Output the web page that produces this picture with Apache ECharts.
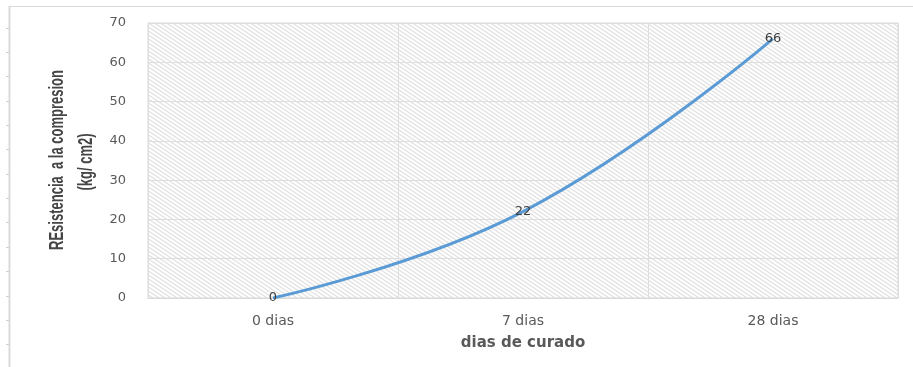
<!DOCTYPE html>
<html>
<head>
<meta charset="utf-8">
<script src="https://cdn.jsdelivr.net/npm/echarts@6/dist/echarts.min.js"></script>
<style>
  html, body { margin: 0; padding: 0; background: #fff; }
  #chart { width: 913px; height: 367px; }
</style>
</head>
<body>
<div id="chart"></div>
<script>
// Curing age categories and measured compressive strength
const categories = ['0 dias', '7 dias', '28 dias'];
const strength = [0, 22, 66];
const yTicks = { min: 0, max: 70, interval: 10 };
const yTitleLines = ['REsistencia  a la compresion', '(kg/ cm2)'];
const xTitle = 'dias de curado';

// Light diagonal hatch used as the plot-area fill
function hatchPattern() {
  const w = 6, h = 4;
  const c = document.createElement('canvas');
  c.width = w; c.height = h;
  const g = c.getContext('2d');
  g.fillStyle = '#ffffff';
  g.fillRect(0, 0, w, h);
  g.strokeStyle = '#e2e2e2';
  g.lineWidth = 1.3;
  g.beginPath();
  for (let k = -1; k <= 1; k++) {
    g.moveTo(-w + k * w, -h); g.lineTo(2 * w + k * w, 2 * h);
  }
  g.stroke();
  return c;
}

// Condensed look for the rotated axis title: squeeze along the text direction
const titleFont = 'bold 20px "Liberation Sans", Arial, sans-serif';
const titleLength = 180;
const meas = document.createElement('canvas').getContext('2d');
meas.font = titleFont;
const titleScale = titleLength / meas.measureText(yTitleLines[0]).width;

function yTitleText(text, cx, cy) {
  return {
    type: 'text',
    x: cx, y: cy,
    rotation: Math.PI / 2,
    scaleX: titleScale,
    style: {
      text: text,
      font: titleFont,
      fill: '#454545',
      align: 'center',
      verticalAlign: 'middle'
    }
  };
}

// Outer page frame with ruler-like ticks on the left edge
const graphics = [
  { type: 'line', shape: { x1: 9, y1: 6.5, x2: 913, y2: 6.5 }, style: { stroke: '#d9d9d9', lineWidth: 1 } },
  { type: 'line', shape: { x1: 9.5, y1: 6, x2: 9.5, y2: 367 }, style: { stroke: '#d9d9d9', lineWidth: 2 } },
  yTitleText(yTitleLines[0], 57, 160),
  yTitleText(yTitleLines[1], 86, 162)
];
for (let y = 27.7; y < 367; y += 24.35) {
  graphics.push({ type: 'line', shape: { x1: 6, y1: Math.round(y) + 0.5, x2: 9, y2: Math.round(y) + 0.5 }, style: { stroke: '#d0d0d0', lineWidth: 1 } });
}

const chart = echarts.init(document.getElementById('chart'));
chart.setOption({
  animation: false,
  backgroundColor: '#ffffff',
  graphic: graphics,
  grid: {
    left: 148, right: 15, top: 23, bottom: 69,
    show: true,
    backgroundColor: { image: hatchPattern(), repeat: 'repeat' },
    borderColor: '#d9d9d9',
    borderWidth: 1
  },
  xAxis: {
    type: 'category',
    data: categories,
    boundaryGap: true,
    name: xTitle,
    nameLocation: 'middle',
    nameGap: 38,
    nameTextStyle: { fontFamily: 'DejaVu Sans', fontSize: 15, fontWeight: 'bold', color: '#595959' },
    axisLine: { show: true, lineStyle: { color: '#d9d9d9', width: 1 } },
    axisTick: { show: false },
    axisLabel: { margin: 16, fontFamily: 'DejaVu Sans', fontSize: 14, color: '#595959' },
    splitLine: { show: true, lineStyle: { color: '#dedede', width: 1 } }
  },
  yAxis: {
    type: 'value',
    min: yTicks.min,
    max: yTicks.max,
    interval: yTicks.interval,
    axisLine: { show: false },
    axisTick: { show: false },
    axisLabel: { margin: 22, fontFamily: 'DejaVu Sans', fontSize: 13, color: '#595959' },
    splitLine: { show: true, lineStyle: { color: '#dedede', width: 1 } }
  },
  series: [{
    type: 'line',
    data: strength,
    smooth: 0.45,
    symbol: 'circle',
    symbolSize: 1,
    showSymbol: true,
    itemStyle: { color: 'rgba(0,0,0,0)' },
    lineStyle: { color: '#5B9BD5', width: 3 },
    label: {
      show: true,
      position: 'inside',
      fontFamily: 'DejaVu Sans',
      fontSize: 13,
      color: '#404040'
    }
  }]
});
</script>
</body>
</html>
